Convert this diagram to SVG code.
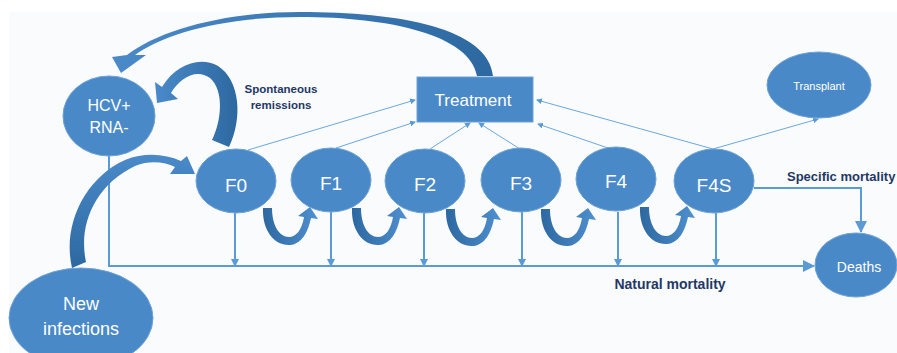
<svg xmlns="http://www.w3.org/2000/svg" xmlns:xlink="http://www.w3.org/1999/xlink" width="897" height="353" viewBox="0 0 897 353">
<style>
.node{fill:#4a89c8;stroke:#6da2d6;stroke-width:1}
.nt{fill:#ffffff;font-family:"Liberation Sans",Arial,sans-serif;text-anchor:middle}
.lbl{fill:#1f3864;font-family:"Liberation Sans",Arial,sans-serif;font-weight:bold}
.thin{stroke:#6aa8de;stroke-width:1;fill:none}
.mort{stroke:#5b9bd5;stroke-width:2;fill:none}
</style>
<defs>
<marker id="ah" markerWidth="8" markerHeight="8" refX="7" refY="4" orient="auto" markerUnits="userSpaceOnUse">
<path d="M0,0 L8,4 L0,8 Z" fill="#5b9bd5"/>
</marker>
<marker id="ahs" markerWidth="6" markerHeight="6" refX="5" refY="3" orient="auto" markerUnits="userSpaceOnUse">
<path d="M0,0 L6,3 L0,6 Z" fill="#5b9bd5"/>
</marker>
<marker id="ahb" markerWidth="12" markerHeight="12" refX="11" refY="6" orient="auto" markerUnits="userSpaceOnUse">
<path d="M0,0 L12,6 L0,12 Z" fill="#5b9bd5"/>
</marker>
<linearGradient id="gR" x1="0" y1="0" x2="1" y2="0">
<stop offset="0" stop-color="#4a8ac9"/>
<stop offset="1" stop-color="#2d68a0"/>
</linearGradient>
<linearGradient id="gL" x1="0" y1="0" x2="1" y2="0">
<stop offset="0" stop-color="#2d68a0"/>
<stop offset="1" stop-color="#4f90cf"/>
</linearGradient>
<linearGradient id="gV" x1="0" y1="1" x2="0" y2="0">
<stop offset="0" stop-color="#2d68a0"/>
<stop offset="1" stop-color="#4a8ac9"/>
</linearGradient>
<path id="uarrow" d="M263,208 C262,231 275,246 290,245 C302,244 308,232 311,218 L318,219 L310,207 L298,216 L304,217 C302,230 296,237 289,237 C279,237 272,225 272,208 Z"/>
</defs>
<rect x="9" y="12" width="888" height="341" fill="#fafbfd"/>

<g id="connectors">
<!-- thin lines to Treatment -->
<line class="thin" x1="248" y1="150" x2="415" y2="100" marker-end="url(#ahs)"/>
<line class="thin" x1="336" y1="148" x2="415" y2="122" marker-end="url(#ahs)"/>
<line class="thin" x1="430" y1="149" x2="470" y2="123" marker-end="url(#ahs)"/>
<line class="thin" x1="520" y1="149" x2="479" y2="123" marker-end="url(#ahs)"/>
<line class="thin" x1="608" y1="148" x2="538" y2="124" marker-end="url(#ahs)"/>
<line class="thin" x1="713" y1="149" x2="537" y2="100" marker-end="url(#ahs)"/>
<line class="thin" x1="713" y1="149" x2="818" y2="119" marker-end="url(#ahs)"/>
<!-- natural mortality -->
<polyline class="mort" points="109,156 109,266 814,266" marker-end="url(#ahb)"/>
<line class="mort" x1="235" y1="213" x2="235" y2="266" marker-end="url(#ah)"/>
<line class="mort" x1="331" y1="212" x2="331" y2="266" marker-end="url(#ah)"/>
<line class="mort" x1="424" y1="213" x2="424" y2="266" marker-end="url(#ah)"/>
<line class="mort" x1="522" y1="212" x2="522" y2="266" marker-end="url(#ah)"/>
<line class="mort" x1="618" y1="212" x2="618" y2="266" marker-end="url(#ah)"/>
<line class="mort" x1="716" y1="213" x2="716" y2="266" marker-end="url(#ah)"/>
<!-- specific mortality -->
<polyline class="mort" points="754,188 861,188 861,232" marker-end="url(#ahb)"/>
<!-- thick curved arrows -->
<path d="M493,76 C488,28 400,12 300,12 C225,12 160,30 127,55 L112,57 L121,73 L146,55 L135,55 C165,33 225,17 300,17 C390,17 470,35 477,76 Z" fill="url(#gR)"/>
<path d="M212,140 C222,120 224,90 210,78 C196,68 180,78 171,93 L178,99 L157,103 L155,82 L162,87 C176,64 200,56 218,66 C240,80 243,118 229,147 Z" fill="url(#gR)"/>
<path d="M86,262 C78,225 95,185 135,166 C150,160 165,162 175,167 L170,174 L195,174 L187,156 L181,161 C165,154 145,152 125,160 C85,178 62,225 72,268 Z" fill="url(#gV)"/>
<use xlink:href="#uarrow" fill="url(#gL)"/>
<use xlink:href="#uarrow" fill="url(#gL)" transform="translate(89,0)"/>
<use xlink:href="#uarrow" fill="url(#gL)" transform="translate(183,1)"/>
<use xlink:href="#uarrow" fill="url(#gL)" transform="translate(278,1)"/>
<use xlink:href="#uarrow" fill="url(#gL)" transform="translate(377,-1)"/>
</g>

<g id="hcv"><ellipse class="node" cx="109" cy="116" rx="46" ry="40"/>
<text class="nt" x="109" y="111" font-size="16">HCV+</text>
<text class="nt" x="109" y="133" font-size="16">RNA-</text></g>
<g id="treatment"><rect x="417" y="77" width="116" height="45" fill="#4a89c8" stroke="#6da2d6" stroke-width="1"/>
<text class="nt" x="473" y="106" font-size="17">Treatment</text></g>
<g id="f0"><ellipse class="node" cx="236" cy="181" rx="40" ry="32"/><text class="nt" x="236" y="192" font-size="19">F0</text></g>
<g id="f1"><ellipse class="node" cx="331" cy="180" rx="40" ry="32"/><text class="nt" x="331" y="190" font-size="19">F1</text></g>
<g id="f2"><ellipse class="node" cx="425" cy="181" rx="40" ry="32"/><text class="nt" x="425" y="191" font-size="19">F2</text></g>
<g id="f3"><ellipse class="node" cx="521" cy="180" rx="40" ry="32"/><text class="nt" x="521" y="190" font-size="19">F3</text></g>
<g id="f4"><ellipse class="node" cx="616" cy="179" rx="40" ry="32"/><text class="nt" x="616" y="188" font-size="19">F4</text></g>
<g id="f4s"><ellipse class="node" cx="714" cy="181" rx="40" ry="32"/><text class="nt" x="714" y="192" font-size="19">F4S</text></g>
<g id="transplant"><ellipse class="node" cx="819" cy="85" rx="52" ry="33"/><text class="nt" x="819" y="90" font-size="11">Transplant</text></g>
<g id="deaths"><ellipse class="node" cx="856" cy="265" rx="41" ry="32"/><text class="nt" x="859" y="272" font-size="14">Deaths</text></g>
<g id="newinf"><ellipse class="node" cx="81" cy="318" rx="72" ry="50"/>
<text class="nt" x="81" y="310" font-size="18">New</text>
<text class="nt" x="81" y="335" font-size="18">infections</text></g>

<g id="labels">
<text class="lbl" x="281" y="93" font-size="11.5" text-anchor="middle">Spontaneous</text>
<text class="lbl" x="281" y="109" font-size="11.5" text-anchor="middle">remissions</text>
<text class="lbl" x="787" y="181" font-size="13">Specific mortality</text>
<text class="lbl" x="670" y="289" font-size="14" text-anchor="middle">Natural mortality</text>
</g>
</svg>
